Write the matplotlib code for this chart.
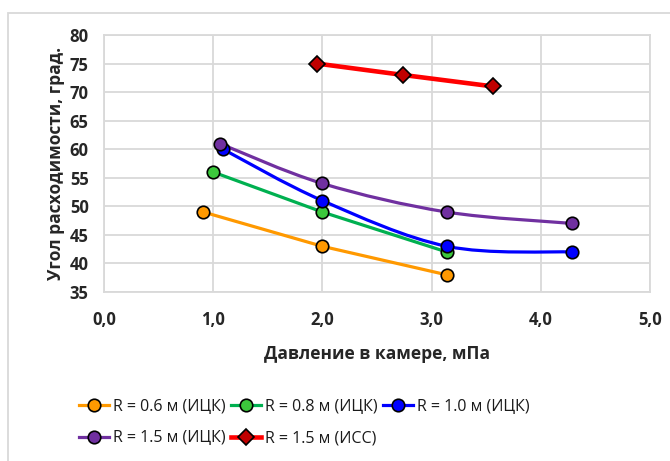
import matplotlib
matplotlib.use("Agg")
import matplotlib.pyplot as plt
from matplotlib.path import Path
from matplotlib.patches import PathPatch, Rectangle
from matplotlib.lines import Line2D
import numpy as np

plt.rcParams['font.family'] = ['Open Sans', 'DejaVu Sans']

# Pressure in chamber (MPa) and divergence angle (deg) per series
x_r06 = [0.91, 2.0, 3.14]
y_r06 = [49, 43, 38]

x_r08 = [1.0, 2.0, 3.14]
y_r08 = [56, 49, 42]

x_r10 = [1.09, 2.0, 3.14, 4.29]
y_r10 = [60, 51, 43, 42]

x_r15 = [1.06, 2.0, 3.14, 4.29]
y_r15 = [61, 54, 49, 47]

x_r15s = [1.95, 2.74, 3.56]
y_r15s = [75, 73, 71]

labels = ["R = 0.6 м (ИЦК)", "R = 0.8 м (ИЦК)", "R = 1.0 м (ИЦК)",
          "R = 1.5 м (ИЦК)", "R = 1.5 м (ИСС)"]

x_ticks = [0, 1, 2, 3, 4, 5]
x_ticklabels = ["0,0", "1,0", "2,0", "3,0", "4,0", "5,0"]
y_ticks = [35, 40, 45, 50, 55, 60, 65, 70, 75, 80]

series = [
    (x_r06, y_r06, '#FF9900', '#FF9900', 'o', False, 2.3),
    (x_r08, y_r08, '#00B050', '#3CC83C', 'o', False, 2.3),
    (x_r10, y_r10, '#0000FF', '#0000FF', 'o', True, 2.3),
    (x_r15, y_r15, '#7030A0', '#7030A0', 'o', True, 2.3),
    (x_r15s, y_r15s, '#FF0000', '#C00000', 'D', False, 3.3),
]


def smooth_path(xs, ys):
    """Bezier curve through the points (Catmull-Rom style tangents)."""
    pts = np.column_stack([xs, ys]).astype(float)
    n = len(pts)
    verts = [pts[0]]
    codes = [Path.MOVETO]
    for i in range(n - 1):
        p0 = pts[i - 1] if i > 0 else pts[i]
        p1 = pts[i]
        p2 = pts[i + 1]
        p3 = pts[i + 2] if i + 2 < n else pts[i + 1]
        c1 = p1 + (p2 - p0) / 6.0
        c2 = p2 - (p3 - p1) / 6.0
        verts += [c1, c2, p2]
        codes += [Path.CURVE4] * 3
    return Path(verts, codes)


fig = plt.figure(figsize=(6.70, 4.61), dpi=100)
ax = fig.add_axes([0.1552, 0.3666, 0.8149, 0.5575])

# outer chart frame
fig.patches.append(Rectangle((8 / 670, -0.01), 1.0, 1 - 13 / 461 + 0.01,
                             transform=fig.transFigure, fill=False,
                             edgecolor='#D9D9D9', linewidth=1.3))

handles = []
for xs, ys, lc, mc, mk, smooth, lw in series:
    if smooth:
        ax.add_patch(PathPatch(smooth_path(xs, ys), facecolor='none',
                               edgecolor=lc, linewidth=lw, zorder=3,
                               capstyle='round'))
    else:
        ax.plot(xs, ys, color=lc, linewidth=lw, zorder=3,
                solid_capstyle='round')
    ms = 9 if mk == 'o' else 8
    ax.plot(xs, ys, linestyle='none', marker=mk, markersize=ms,
            markerfacecolor=mc, markeredgecolor='black',
            markeredgewidth=1.2, zorder=4)
    handles.append(Line2D([], [], color=lc, linewidth=lw, marker=mk,
                          markersize=ms, markerfacecolor=mc,
                          markeredgecolor='black', markeredgewidth=1.2))

ax.set_xlim(0, 5)
ax.set_ylim(35, 80)
ax.set_xticks(x_ticks)
ax.set_xticklabels(x_ticklabels)
ax.set_yticks(y_ticks)
ax.grid(True, color='#D9D9D9', linewidth=1.3, zorder=0)
ax.set_axisbelow(True)
for s in ax.spines.values():
    s.set_color('#D9D9D9')
    s.set_linewidth(1.3)
ax.tick_params(length=0, labelsize=12, colors='#262626')
ax.tick_params(axis='x', pad=14)
ax.tick_params(axis='y', pad=11)
for t in ax.get_xticklabels() + ax.get_yticklabels():
    t.set_fontweight('bold')

ax.set_xlabel("Давление в камере, мПа", fontsize=12.5, fontweight='bold',
              color='#262626', labelpad=11)
ax.set_ylabel("Угол расходимости, град.", fontsize=12.5, fontweight='bold',
              color='#262626', labelpad=3)

# legend filled row by row: matplotlib fills columns, so reorder
order = [0, 3, 1, 4, 2]
fig.legend([handles[i] for i in order], [labels[i] for i in order],
           loc='upper left', bbox_to_anchor=(71 / 670, 1 - 391 / 461),
           ncol=3, frameon=False, fontsize=11.5, handlelength=1.9,
           handletextpad=0.25, columnspacing=0.3, labelspacing=0.95,
           borderpad=0, labelcolor='#1A1A1A')

fig.savefig("out.png", dpi=100)
